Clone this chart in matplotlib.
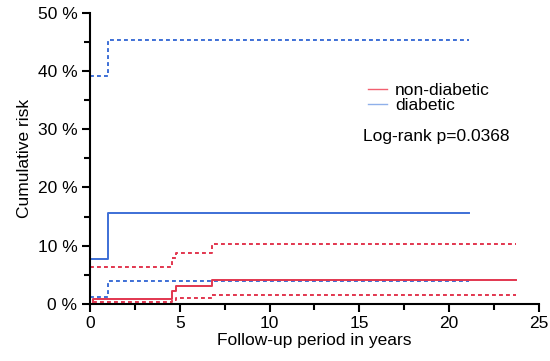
import matplotlib
matplotlib.use("Agg")
import matplotlib.pyplot as plt
from matplotlib.ticker import MultipleLocator, FuncFormatter
from matplotlib.lines import Line2D

plt.rcParams['font.family'] = ['Liberation Sans', 'DejaVu Sans']

# Diabetic group
dia_t = [0, 1.0, 21.1]
dia_risk = [7.8, 15.6, 15.6]
dia_upper = [39.2, 45.3, 45.3]
dia_lower = [1.2, 4.0, 4.0]

# Non-diabetic group
non_t = [0, 0.15, 4.55, 4.8, 6.8, 23.75]
non_risk = [0.0, 0.9, 2.2, 3.0, 4.1, 4.1]
non_upper_t = [0, 4.55, 4.8, 6.8, 23.75]
non_upper = [6.4, 7.9, 8.7, 10.3, 10.3]
non_lower_t = [0.15, 4.55, 4.8, 6.8, 23.75]
non_lower = [0.3, 0.6, 1.0, 1.6, 1.6]

labels = ["non-diabetic", "diabetic"]
pvalue_text = "Log-rank p=0.0368"

RED = "#e2364f"
BLUE = "#3d6fd6"
FS = 12.5

fig = plt.figure(figsize=(5.5, 3.61), dpi=100)
ax = fig.add_axes([0.1636, 0.158, 0.816, 0.807])

lw = 1.4
dash = (0, (2.0, 1.6))
ax.step(dia_t, dia_risk, where='post', color=BLUE, lw=lw)
ax.step(dia_t, dia_upper, where='post', color=BLUE, lw=lw, linestyle=dash)
ax.step(dia_t, dia_lower, where='post', color=BLUE, lw=lw, linestyle=dash)
ax.step(non_t, non_risk, where='post', color=RED, lw=lw)
ax.step(non_upper_t, non_upper, where='post', color=RED, lw=lw, linestyle=dash)
ax.step(non_lower_t, non_lower, where='post', color=RED, lw=lw, linestyle=dash)

ax.set_xlim(0, 25)
ax.set_ylim(0, 50)
ax.spines['top'].set_visible(False)
ax.spines['right'].set_visible(False)
for s in ['left', 'bottom']:
    ax.spines[s].set_linewidth(1.5)
ax.xaxis.set_major_locator(MultipleLocator(5))
ax.xaxis.set_minor_locator(MultipleLocator(2.5))
ax.yaxis.set_major_locator(MultipleLocator(10))
ax.yaxis.set_minor_locator(MultipleLocator(5))
ax.yaxis.set_major_formatter(FuncFormatter(lambda v, p: f"{int(v)} %"))
ax.tick_params(which='major', length=6, width=1.5, labelsize=FS, direction='out', colors='black', pad=3)
ax.tick_params(which='minor', length=4, width=1.5, direction='out')
ax.set_xlabel("Follow-up period in years", fontsize=FS, labelpad=1)
ax.set_ylabel("Cumulative risk", fontsize=FS, labelpad=4)

handles = [Line2D([], [], color="#f26070", lw=1.0),
           Line2D([], [], color="#8fb0ea", lw=1.0)]
ax.legend(handles, labels, loc='upper left', bbox_to_anchor=(0.6, 0.79),
          frameon=False, fontsize=FS, handlelength=1.1, handletextpad=0.45,
          labelspacing=0.02, borderpad=0)
ax.text(0.609, 0.575, pvalue_text, transform=ax.transAxes, fontsize=FS,
        ha='left', va='center')

fig.savefig("out.png", dpi=100)
